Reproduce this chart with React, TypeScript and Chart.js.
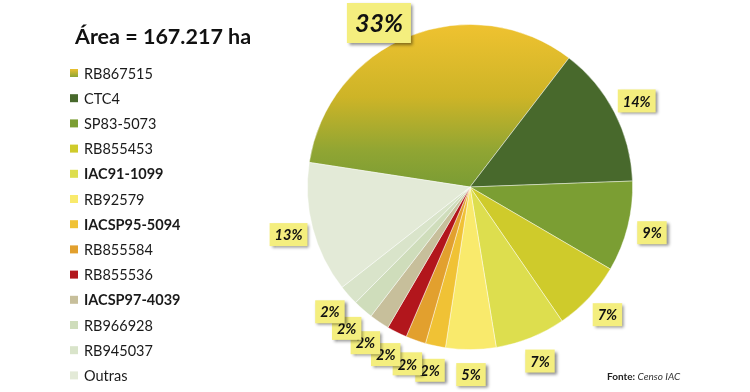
import React, { useEffect, useRef } from "react";
import { Chart, registerables } from "chart.js";

Chart.register(...registerables);

const TITLE = "Área = 167.217 ha";
const SOURCE_BOLD = "Fonte:";
const SOURCE_ITALIC = "Censo IAC";

const categories = [
  "RB867515",
  "CTC4",
  "SP83-5073",
  "RB855453",
  "IAC91-1099",
  "RB92579",
  "IACSP95-5094",
  "RB855584",
  "RB855536",
  "IACSP97-4039",
  "RB966928",
  "RB945037",
  "Outras",
];
const shares = [33, 14, 9, 7, 7, 5, 2, 2, 2, 2, 2, 2, 13];
const boldLegend = [false, false, false, false, true, false, true, false, false, true, false, false, false];
const colors = [
  "#D2B52A",
  "#48692C",
  "#7B9E33",
  "#CFCB2B",
  "#DDDE4E",
  "#F9EA6C",
  "#F0C235",
  "#E2A02E",
  "#B2161C",
  "#C7BF9B",
  "#CFDDBB",
  "#D9E4CA",
  "#E3EAD7",
];

const FONT = "Lato, 'Noto Sans', sans-serif";

function firstGradient(ctx: CanvasRenderingContext2D, top: number, bottom: number) {
  const g = ctx.createLinearGradient(0, top, 0, bottom);
  g.addColorStop(0, "#EFC230");
  g.addColorStop(0.45, "#CDB427");
  g.addColorStop(0.78, "#90A533");
  g.addColorStop(1, "#7A9C34");
  return g;
}

const overlayPlugin = {
  id: "overlay",
  afterDatasetsDraw(chart: any) {
    const ctx: CanvasRenderingContext2D = chart.ctx;
    const meta = chart.getDatasetMeta(0);
    ctx.save();
    // labels
    meta.data.forEach((arc: any, i: number) => {
      const p = arc.getProps(["x", "y", "startAngle", "endAngle", "outerRadius"], true);
      const mid = (p.startAngle + p.endAngle) / 2;
      const R = p.outerRadius + 25;
      const big = shares[i] >= 30;
      const fs = big ? 25 : 14.5;
      const text = Math.round(shares[i]) + "%";
      ctx.font = `italic bold ${fs}px ${FONT}`;
      const tw = ctx.measureText(text).width;
      const padX = big ? 8 : 5;
      const bw = tw + padX * 2;
      const bh = big ? 40 : 23;
      let x = p.x + Math.cos(mid) * R;
      let y = p.y + Math.sin(mid) * R;
      const minY = bh / 2 + 3;
      if (y < minY) {
        y = minY;
        const dy = y - p.y;
        const dx = Math.sqrt(Math.max(0, R * R - dy * dy));
        x = p.x + (Math.cos(mid) < 0 ? -dx : dx);
      }
      ctx.save();
      ctx.shadowColor = "rgba(0,0,0,0.45)";
      ctx.shadowBlur = 3;
      ctx.shadowOffsetX = 2;
      ctx.shadowOffsetY = 2;
      ctx.fillStyle = "#F4EE7E";
      ctx.fillRect(x - bw / 2, y - bh / 2, bw, bh);
      ctx.restore();
      ctx.fillStyle = "#111";
      ctx.textAlign = "center";
      ctx.textBaseline = "middle";
      ctx.fillText(text, x, y + 1);
    });

    // title
    ctx.textAlign = "left";
    ctx.textBaseline = "middle";
    ctx.fillStyle = "#111";
    ctx.font = `bold 21.5px ${FONT}`;
    ctx.fillText(TITLE, 75, 37);

    // legend
    const rowH = 25.2;
    categories.forEach((c, i) => {
      const y = 73 + i * rowH;
      if (i === 0) {
        const g = ctx.createLinearGradient(0, y - 4, 0, y + 4);
        g.addColorStop(0, "#EBC02F");
        g.addColorStop(1, "#8CA534");
        ctx.fillStyle = g;
      } else {
        ctx.fillStyle = colors[i];
      }
      ctx.fillRect(70, y - 4, 8, 8);
      ctx.fillStyle = "#1a1a1a";
      ctx.font = `${boldLegend[i] ? "bold " : ""}14.5px ${FONT}`;
      ctx.fillText(c, 84, y + 1);
    });

    // source
    ctx.font = `bold 10px ${FONT}`;
    ctx.fillStyle = "#222";
    const sx = 607;
    const sy = 377;
    ctx.fillText(SOURCE_BOLD, sx, sy);
    const w1 = ctx.measureText(SOURCE_BOLD + " ").width;
    ctx.font = `italic 10px ${FONT}`;
    ctx.fillStyle = "#333";
    ctx.fillText(SOURCE_ITALIC, sx + w1, sy);
    ctx.restore();
  },
};

export default function App() {
  const ref = useRef<HTMLCanvasElement | null>(null);
  useEffect(() => {
    document.body.style.margin = "0";
    const canvas = ref.current!;
    const chart = new Chart(canvas, {
      type: "pie",
      data: {
        labels: categories,
        datasets: [
          {
            data: shares,
            backgroundColor: (c: any) => {
              if (c.dataIndex === 0) {
                const area = c.chart.chartArea;
                if (!area) return colors[0];
                return firstGradient(c.chart.ctx, area.top, (area.top + area.bottom) / 2);
              }
              return colors[c.dataIndex];
            },
            borderColor: "rgba(255,255,255,0.55)",
            borderWidth: 0.8,
          },
        ],
      },
      options: {
        responsive: false,
        animation: false,
        rotation: -81.3,
        layout: { padding: { left: 307, right: 117, top: 24, bottom: 42 } },
        plugins: {
          legend: { display: false },
          tooltip: { enabled: false },
          title: { display: false },
        },
      },
      plugins: [overlayPlugin],
    });
    return () => chart.destroy();
  }, []);
  return (
    <div style={{ width: 750, height: 392, background: "#fff" }}>
      <canvas ref={ref} width={750} height={392} />
    </div>
  );
}
